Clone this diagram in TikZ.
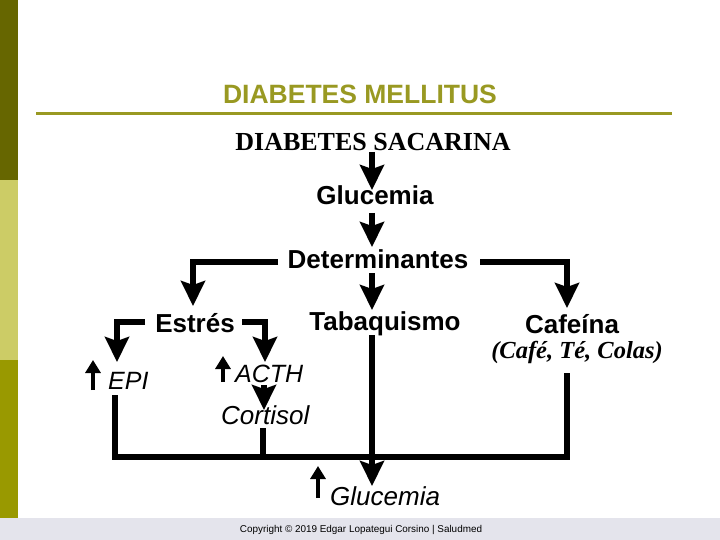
\documentclass[tikz,border=0pt]{standalone}
\usepackage{fontspec}
\setmainfont{Liberation Sans}
\newfontfamily\serifA{Liberation Serif}
\usetikzlibrary{arrows.meta}
\definecolor{titleolive}{RGB}{153,153,34}
\definecolor{bardark}{RGB}{102,102,0}
\definecolor{barlight}{RGB}{204,204,102}
\definecolor{barmid}{RGB}{153,153,0}
\definecolor{stripgrey}{RGB}{228,228,236}
\tikzset{
  lab/.style={inner sep=0pt, anchor=base, font=\bfseries\fontsize{26}{30}\selectfont},
  ilab/.style={inner sep=0pt, anchor=base west, font=\itshape\fontsize{25}{30}\selectfont},
  ln/.style={line width=6.5pt, line join=miter, line cap=butt},
  arr/.style={ln, -{Stealth[length=25pt,width=24pt,inset=4pt]}},
  uparr/.style={line width=4pt, -{Triangle[length=13pt,width=15pt]}},
}
\begin{document}
\begin{tikzpicture}[x=1pt,y=-1pt]
\useasboundingbox (0,0) rectangle (720,540);
\fill[white] (0,0) rectangle (720,540);
% side bar and bottom strip
\fill[bardark] (0,0) rectangle (18,180);
\fill[barlight] (0,180) rectangle (18,360);
\fill[barmid] (0,360) rectangle (18,518);
\fill[stripgrey] (0,518) rectangle (720,540);
% title
\node[inner sep=0pt, anchor=base, text=titleolive, font=\bfseries\fontsize{26.5}{30}\selectfont] (title) at (360,104) {DIABETES MELLITUS};
\draw[titleolive, line width=3pt] (36,114) -- (672,114);
% labels
\node[inner sep=0pt, anchor=base, font=\serifA\bfseries\fontsize{26}{30}\selectfont] (sac) at (373,151) {DIABETES SACARINA};
\node[lab] (gluc1) at (375,205) {Glucemia};
\node[lab] (det) at (378,268) {Determinantes};
\node[lab] (estres) at (195,332) {Estrés};
\node[lab] (tab) at (385,330) {Tabaquismo};
\node[lab] (caf) at (572,333) {Cafeína};
\node[inner sep=0pt, anchor=base, font=\serifA\bfseries\itshape\fontsize{24.5}{30}\selectfont] (cafsub) at (577,358) {(Café, Té, Colas)};
\node[ilab] (epi) at (108,389) {EPI};
\node[ilab] (acth) at (235,382) {ACTH};
\node[ilab, font=\itshape\fontsize{26}{30}\selectfont] (cort) at (221,424) {Cortisol};
\node[ilab, font=\itshape\fontsize{26}{30}\selectfont] (gluc2) at (330,505) {Glucemia};
\node[inner sep=0pt, anchor=base, font=\fontsize{9.9}{11}\selectfont] (copy) at (361,532) {Copyright © 2019 Edgar Lopategui Corsino | Saludmed};
% connector points
\coordinate (s1) at (372,152);
\coordinate (g1t) at (372,190);
\coordinate (g1b) at (372,213);
\coordinate (dt) at (372,247);
\coordinate (dl) at (278,262);
\coordinate (dlc) at (193,262);
\coordinate (est) at (193,306);
\coordinate (dr) at (480,262);
\coordinate (drc) at (567,262);
\coordinate (cft) at (567,308);
\coordinate (db) at (372,273);
\coordinate (tt) at (372,310);
\coordinate (el) at (145,322);
\coordinate (elc) at (117,322);
\coordinate (ept) at (117,362);
\coordinate (er) at (242,322);
\coordinate (erc) at (265,322);
\coordinate (act) at (265,362);
\coordinate (ab) at (264,385);
\coordinate (ct) at (264,410);
\coordinate (epb) at (115,395);
\coordinate (bl) at (115,457);
\coordinate (br) at (567,457);
\coordinate (cfb) at (567,373);
\coordinate (cb) at (263,428);
\coordinate (cbl) at (263,457);
\coordinate (tb) at (372,335);
\coordinate (gt) at (372,486);
% connectors
\draw[arr] (s1) -- (g1t);
\draw[arr] (g1b) -- (dt);
\draw[arr] (dl) -- (dlc) -- (est);
\draw[arr] (dr) -- (drc) -- (cft);
\draw[arr] (db) -- (tt);
\draw[arr] (el) -- (elc) -- (ept);
\draw[arr] (er) -- (erc) -- (act);
\draw[arr] (ab) -- (ct);
\draw[ln] (epb) -- (bl) -- (br) -- (cfb);
\draw[ln] (cb) -- (cbl);
\draw[arr] (tb) -- (gt);
% increase arrows
\draw[uparr] ([xshift=-15pt,yshift=-1pt]epi.base west) -- ++(0,-30);
\draw[uparr] ([xshift=-12pt]acth.base west) -- ++(0,-26);
\draw[uparr] ([xshift=-12pt,yshift=7pt]gluc2.base west) -- ++(0,-32);
\end{tikzpicture}
\end{document}
